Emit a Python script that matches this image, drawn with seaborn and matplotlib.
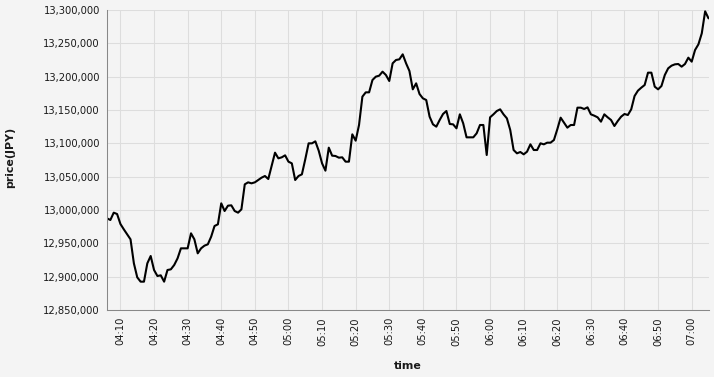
import matplotlib
matplotlib.use("Agg")
import matplotlib.pyplot as plt
import matplotlib.dates as mdates
import matplotlib.ticker as mticker
import seaborn as sns
import pandas as pd

start_time = "2024-01-01 04:06"
freq = "1min"
prices = [
    12987500, 12985000, 12996000, 12994000, 12979000, 12971000, 12963500, 12956000,
    12920000, 12899000, 12892500, 12892500, 12920000, 12931000, 12910000, 12901000,
    12902000, 12892500, 12910000, 12911000, 12917500, 12927500, 12942500, 12942500,
    12942500, 12965000, 12956000, 12935000, 12942500, 12946500, 12948500, 12960000,
    12976000, 12978500, 13010000, 12998500, 13006500, 13007000, 12998500, 12996000,
    13001000, 13038500, 13041500, 13040000, 13041500, 13045000, 13048500, 13051000,
    13046500, 13066000, 13086000, 13077500, 13079000, 13082000, 13072500, 13070000,
    13045000, 13051000, 13053500, 13076000, 13100000, 13100000, 13103000, 13089000,
    13070000, 13059000, 13093500, 13081500, 13081000, 13078500, 13079000, 13072500,
    13072500, 13113500, 13104000, 13127500, 13170000, 13176500, 13176500, 13195000,
    13200000, 13201500, 13207500, 13202500, 13193500, 13220000, 13225000, 13226000,
    13233500, 13220000, 13208500, 13181000, 13190000, 13174000, 13167500, 13165000,
    13140000, 13128500, 13125000, 13135000, 13144000, 13148500, 13129000, 13128500,
    13122500, 13143500, 13130000, 13109000, 13109000, 13109000, 13115000, 13127500,
    13127500, 13082500, 13139000, 13143500, 13148500, 13151000, 13143500, 13137500,
    13120000, 13090000, 13085000, 13087000, 13083500, 13087500, 13098500, 13090000,
    13090000, 13100000, 13098500, 13101000, 13101000, 13105000, 13121000, 13138500,
    13131000, 13123500, 13127500, 13127500, 13153500, 13153500, 13151500, 13154000,
    13143500, 13141500, 13139000, 13132500, 13143500, 13139000, 13135000, 13126000,
    13133500, 13140000, 13144000, 13142500, 13151000, 13171000, 13179000, 13183500,
    13187500, 13206000, 13206000, 13185000, 13181000, 13186000, 13202500, 13212500,
    13216500, 13218500, 13219000, 13215000, 13219000, 13228500, 13222500, 13240000,
    13248500, 13265000, 13298000, 13287500,
]
y_min, y_max, y_step = 12850000, 13300000, 50000
x_title = "time"
y_title = "price(JPY)"

times = pd.date_range(start=start_time, periods=len(prices), freq=freq)
df = pd.DataFrame({"time": times, "price": prices})

sns.set_style("white")
plt.rcParams["font.family"] = ["DejaVu Sans"]

bg = "#f4f4f4"
W, H = 714, 377
fig = plt.figure(figsize=(W / 100, H / 100), dpi=100, facecolor=bg)
left, right, top, bottom = 107, 708.5, 10, 310
ax = fig.add_axes([left / W, 1 - bottom / H, (right - left) / W, (bottom - top) / H])
ax.set_facecolor(bg)

sns.lineplot(data=df, x="time", y="price", ax=ax, color="black", linewidth=1.5)

ax.set_xlim(df["time"].iloc[0], df["time"].iloc[-1])
ax.set_ylim(y_min, y_max)
ax.yaxis.set_major_locator(mticker.MultipleLocator(y_step))
ax.yaxis.set_major_formatter(mticker.FuncFormatter(lambda v, p: f"{int(round(v)):,}"))
ax.xaxis.set_major_locator(mdates.MinuteLocator(byminute=range(0, 60, 10)))
ax.xaxis.set_major_formatter(mdates.DateFormatter("%H:%M"))

ax.grid(True, color="#dddddd", linewidth=0.75)
ax.set_axisbelow(True)
for s in ["top", "right"]:
    ax.spines[s].set_visible(False)
for s in ["left", "bottom"]:
    ax.spines[s].set_color("#888888")
    ax.spines[s].set_linewidth(0.75)

ax.tick_params(axis="both", colors="#888888", length=3.6, width=0.75,
               labelsize=7.2, labelcolor="#1a1a1a", pad=1.5)
plt.setp(ax.get_xticklabels(), rotation=90, va="top", ha="center")

ax.set_xlabel(x_title, fontsize=7.9, fontweight="bold", color="#1a1a1a")
ax.set_ylabel(y_title, fontsize=7.9, fontweight="bold", color="#1a1a1a")
ax.yaxis.set_label_coords(-(107 - 15) / (right - left), (310 - 157) / (bottom - top))
ax.xaxis.set_label_coords(0.5, -(361 - 310) / (bottom - top))

fig.savefig("out.png", dpi=100, facecolor=bg)
